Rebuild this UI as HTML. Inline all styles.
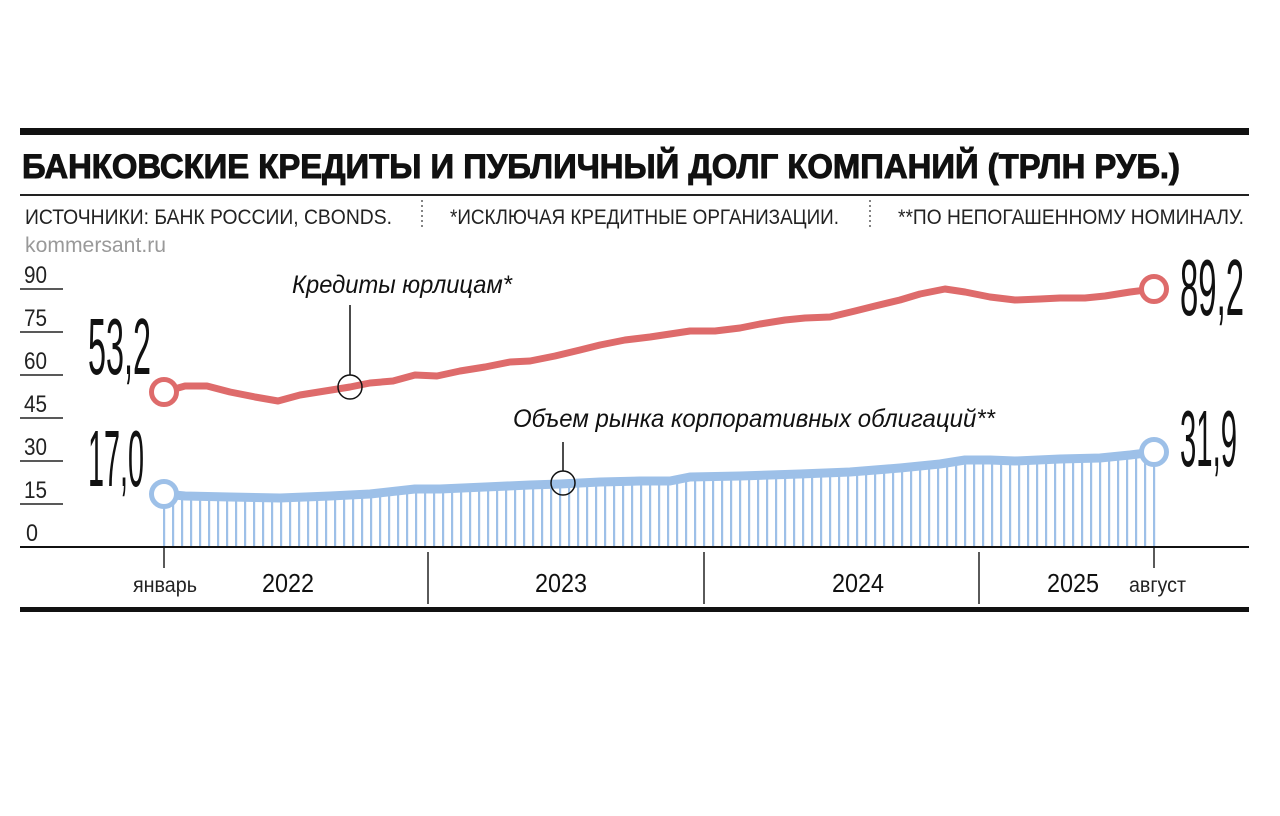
<!DOCTYPE html>
<html><head><meta charset="utf-8"><style>
html,body{margin:0;padding:0;background:#fff;}
svg{display:block;font-family:"Liberation Sans",sans-serif;}
</style></head><body>
<svg id="s" width="1280" height="816" viewBox="0 0 1280 816" xmlns="http://www.w3.org/2000/svg">
<rect width="1280" height="816" fill="#fff"/>
<rect x="20" y="128" width="1229" height="7" fill="#111"/>
<text x="22" y="178" font-size="34" font-weight="bold" fill="#111" stroke="#111" stroke-width="1" textLength="1158" lengthAdjust="spacingAndGlyphs">БАНКОВСКИЕ КРЕДИТЫ И ПУБЛИЧНЫЙ ДОЛГ КОМПАНИЙ (ТРЛН РУБ.)</text>
<rect x="20" y="194" width="1229" height="2" fill="#222"/>
<g font-size="21" fill="#222">
<text x="25" y="224" textLength="367" lengthAdjust="spacingAndGlyphs">ИСТОЧНИКИ: БАНК РОССИИ, CBONDS.</text>
<text x="450" y="224" textLength="389" lengthAdjust="spacingAndGlyphs">*ИСКЛЮЧАЯ КРЕДИТНЫЕ ОРГАНИЗАЦИИ.</text>
<text x="898" y="224" textLength="346" lengthAdjust="spacingAndGlyphs">**ПО НЕПОГАШЕННОМУ НОМИНАЛУ.</text>
</g>
<line x1="422" y1="200" x2="422" y2="230" stroke="#333" stroke-width="1.2" stroke-dasharray="2,3"/>
<line x1="870" y1="200" x2="870" y2="230" stroke="#333" stroke-width="1.2" stroke-dasharray="2,3"/>
<text x="25" y="252" font-size="21" fill="#999" textLength="141" lengthAdjust="spacingAndGlyphs">kommersant.ru</text>
<g font-size="24" fill="#222">
<text x="24" y="283" textLength="23" lengthAdjust="spacingAndGlyphs">90</text>
<text x="24" y="326" textLength="23" lengthAdjust="spacingAndGlyphs">75</text>
<text x="24" y="369" textLength="23" lengthAdjust="spacingAndGlyphs">60</text>
<text x="24" y="412" textLength="23" lengthAdjust="spacingAndGlyphs">45</text>
<text x="24" y="455" textLength="23" lengthAdjust="spacingAndGlyphs">30</text>
<text x="24" y="498" textLength="23" lengthAdjust="spacingAndGlyphs">15</text>
<text x="26" y="541" textLength="12" lengthAdjust="spacingAndGlyphs">0</text>
</g>
<g stroke="#222" stroke-width="1.5">
<line x1="20" y1="289" x2="63" y2="289"/><line x1="20" y1="332" x2="63" y2="332"/>
<line x1="20" y1="375" x2="63" y2="375"/><line x1="20" y1="418" x2="63" y2="418"/>
<line x1="20" y1="461" x2="63" y2="461"/><line x1="20" y1="504" x2="63" y2="504"/>
</g>
<g id="bars"></g>
<polyline id="blue" fill="none" stroke="#9dc0e8" stroke-width="9" stroke-linejoin="round"/>
<polyline id="red" fill="none" stroke="#de6b6b" stroke-width="7" stroke-linejoin="round"/>
<rect x="20" y="546" width="1229" height="2" fill="#111"/>
<rect x="20" y="607" width="1229" height="5" fill="#111"/>
<g stroke="#222" stroke-width="1.5">
<line x1="164" y1="548" x2="164" y2="568"/><line x1="1154" y1="548" x2="1154" y2="568"/>
<line x1="428" y1="552" x2="428" y2="604"/><line x1="704" y1="552" x2="704" y2="604"/><line x1="979" y1="552" x2="979" y2="604"/>
</g>
<g font-size="26" fill="#111">
<text x="262" y="592" textLength="52" lengthAdjust="spacingAndGlyphs">2022</text>
<text x="535" y="592" textLength="52" lengthAdjust="spacingAndGlyphs">2023</text>
<text x="832" y="592" textLength="52" lengthAdjust="spacingAndGlyphs">2024</text>
<text x="1047" y="592" textLength="52" lengthAdjust="spacingAndGlyphs">2025</text>
</g>
<g font-size="21" fill="#222">
<text x="133" y="592" textLength="64" lengthAdjust="spacingAndGlyphs">январь</text>
<text x="1129" y="592" textLength="57" lengthAdjust="spacingAndGlyphs">август</text>
</g>
<g fill="#111" font-size="80">
<text x="88" y="374" textLength="63" lengthAdjust="spacingAndGlyphs">53,2</text>
<text x="88" y="486" textLength="56" lengthAdjust="spacingAndGlyphs">17,0</text>
<text x="1180" y="315" textLength="64" lengthAdjust="spacingAndGlyphs">89,2</text>
<text x="1180" y="466" textLength="57" lengthAdjust="spacingAndGlyphs">31,9</text>
</g>
<g font-size="25" font-style="italic" fill="#111">
<text x="292" y="293" textLength="220" lengthAdjust="spacingAndGlyphs">Кредиты юрлицам*</text>
<text x="513" y="427" textLength="482" lengthAdjust="spacingAndGlyphs">Объем рынка корпоративных облигаций**</text>
</g>
<line x1="350" y1="305" x2="350" y2="375" stroke="#111" stroke-width="1.5"/>
<circle cx="350" cy="387" r="12" fill="none" stroke="#111" stroke-width="1.5"/>
<line x1="563" y1="442" x2="563" y2="471" stroke="#111" stroke-width="1.5"/>
<circle cx="563" cy="483" r="12" fill="none" stroke="#111" stroke-width="1.5"/>
<circle cx="164" cy="392" r="12.5" fill="#fff" stroke="#de6b6b" stroke-width="5"/>
<circle cx="1154" cy="289" r="12.5" fill="#fff" stroke="#de6b6b" stroke-width="5"/>
<circle cx="164" cy="494" r="12.5" fill="#fff" stroke="#9dc0e8" stroke-width="5"/>
<circle cx="1154" cy="452" r="12.5" fill="#fff" stroke="#9dc0e8" stroke-width="5"/>
</svg>
<script>
var red=[[164,392],[185,386],[207,386],[230,392],[255,397],[278,401],[300,395],[325,391],[350,387],[370,383],[393,381],[415,375],[437,376],[460,371],[485,367],[510,362],[530,361],[555,356],[580,350],[600,345],[625,340],[650,337],[670,334],[690,331],[715,331],[740,328],[760,324],[785,320],[805,318],[830,317],[855,311],[875,306],[900,300],[920,294],[945,289],[965,292],[990,297],[1015,300],[1040,299],[1060,298],[1085,298],[1105,296],[1130,292],[1154,289]];
var blue=[[164,494],[185,496],[230,497],[280,498],[330,496],[370,494],[415,489],[440,489],[485,487],[530,485],[560,484],[600,482],[640,481],[670,481],[690,477],[740,476],[800,474],[850,472],[900,468],[940,464],[965,460],[990,460],[1015,461],[1060,459],[1100,458],[1130,455],[1154,452]];
function s(a){return a.map(function(p){return p.join(',')}).join(' ')}
document.getElementById('red').setAttribute('points',s(red));
document.getElementById('blue').setAttribute('points',s(blue));
function yAt(x){for(var i=0;i<blue.length-1;i++){var a=blue[i],b=blue[i+1];if(x>=a[0]&&x<=b[0]){return a[1]+(b[1]-a[1])*(x-a[0])/(b[0]-a[0]);}}return blue[blue.length-1][1];}
var g=document.getElementById('bars'),h='';
var n=110;for(var i=0;i<=n;i++){var x=164+990*i/n;h+='<rect x="'+(x-1).toFixed(1)+'" y="'+yAt(x).toFixed(1)+'" width="2.2" height="'+(547-yAt(x)).toFixed(1)+'" fill="#9dc0e8"/>';}
g.innerHTML=h;
</script>
</body></html>
